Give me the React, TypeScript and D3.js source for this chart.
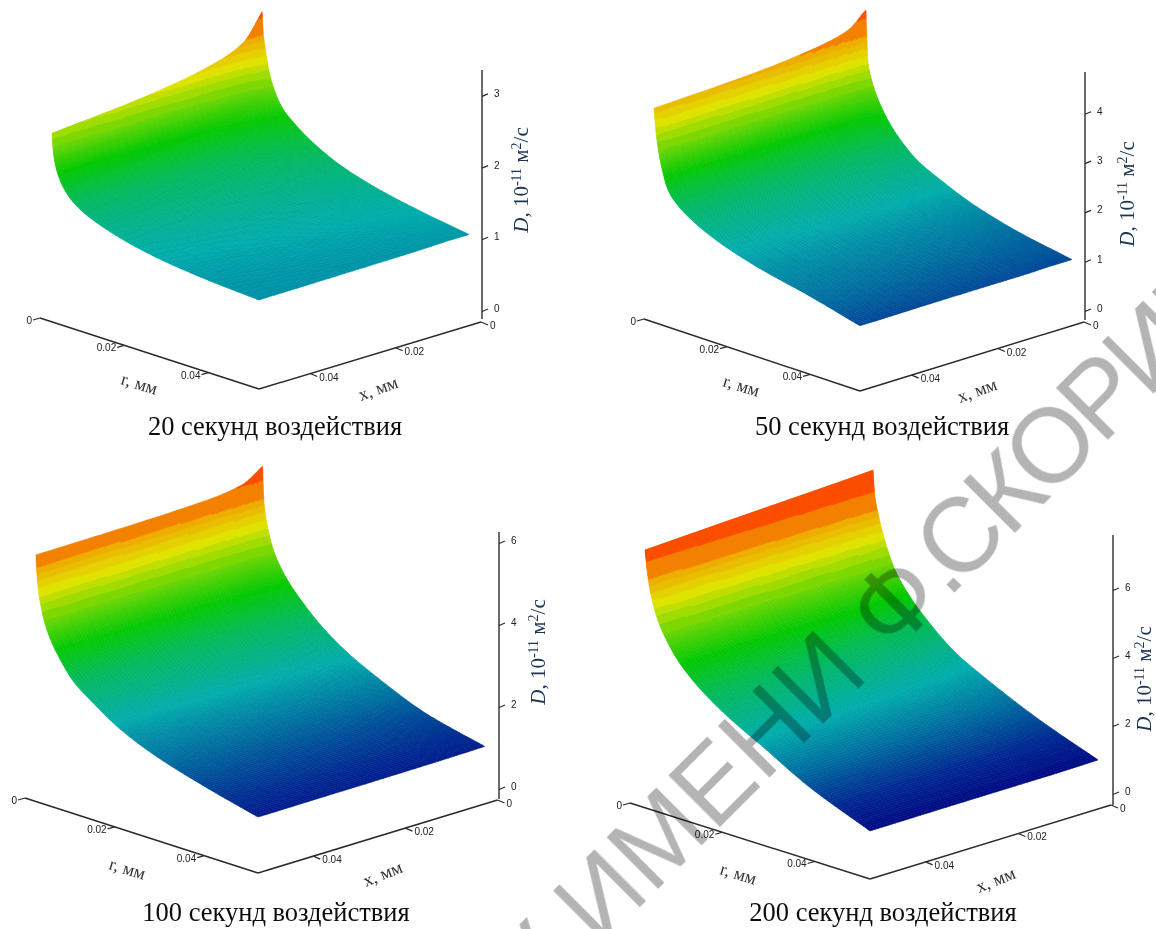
import React, { useMemo } from 'react';
import * as d3 from 'd3';

// grid of the surface, mm
const axisMax = 0.052;
const xColumns = [0.0028, 0.0072, 0.014, 0.03, 0.052];
const rTail = [0.00364, 0.00442, 0.00572, 0.0078, 0.01092, 0.01508, 0.0208, 0.0286, 0.039, 0.052];
const rHead20 = [0.00286, 0.00312];
const rHead50 = [0.00239, 0.00291];
const rHead100 = [0.00244, 0.00276];
const rHead200 = [0.00325, 0.00343];

const rTicks = [0, 0.02, 0.04];
const xTicks = [0, 0.02, 0.04];
const zTicks20 = [0, 1, 2, 3];
const zTicks50 = [0, 1, 2, 3, 4];
const zTicks100 = [0, 2, 4, 6];
const zTicks200 = [0, 2, 4, 6];

// D, 10^-11 m2/s : rows follow r, columns follow xColumns
const d20 = [
  [3.33, 2.98, 2.81, 2.64, 2.52],
  [3.04, 2.72, 2.56, 2.4, 2.29],
  [2.82, 2.51, 2.36, 2.21, 2.1],
  [2.55, 2.29, 2.17, 2.04, 1.95],
  [2.3, 2.14, 2.04, 1.91, 1.8],
  [2.07, 1.94, 1.86, 1.75, 1.66],
  [1.9, 1.78, 1.71, 1.62, 1.54],
  [1.73, 1.67, 1.61, 1.53, 1.44],
  [1.56, 1.52, 1.47, 1.41, 1.34],
  [1.41, 1.38, 1.35, 1.3, 1.25],
  [1.28, 1.26, 1.24, 1.21, 1.18],
  [1.16, 1.16, 1.15, 1.14, 1.13],
];
const d50 = [
  [4.85, 4.54, 4.4, 4.26, 4.18],
  [3.81, 3.77, 3.74, 3.71, 3.69],
  [3.5, 3.42, 3.37, 3.31, 3.28],
  [3.3, 3.18, 3.11, 3.03, 2.98],
  [3.05, 2.9, 2.82, 2.72, 2.63],
  [2.75, 2.63, 2.56, 2.48, 2.4],
  [2.43, 2.35, 2.3, 2.25, 2.2],
  [2.13, 2.1, 2.07, 2.04, 2.01],
  [1.89, 1.87, 1.86, 1.84, 1.82],
  [1.62, 1.62, 1.62, 1.63, 1.63],
  [1.38, 1.39, 1.4, 1.42, 1.44],
  [1.18, 1.18, 1.17, 1.17, 1.16],
];
const d100 = [
  [6.25, 5.95, 5.84, 5.79, 5.77],
  [5.38, 5.29, 5.25, 5.19, 5.15],
  [4.78, 4.67, 4.61, 4.56, 4.52],
  [4.43, 4.33, 4.27, 4.22, 4.18],
  [4.08, 3.98, 3.93, 3.87, 3.82],
  [3.7, 3.59, 3.53, 3.47, 3.42],
  [3.3, 3.19, 3.12, 3.04, 2.97],
  [2.86, 2.8, 2.76, 2.69, 2.62],
  [2.41, 2.37, 2.33, 2.27, 2.21],
  [1.97, 1.94, 1.91, 1.87, 1.83],
  [1.5, 1.5, 1.49, 1.49, 1.48],
  [1.16, 1.15, 1.14, 1.13, 1.12],
];
const d200 = [
  [7.52, 7.49, 7.45, 7.36, 7.23],
  [7.15, 7.13, 7.1, 7.05, 7.0],
  [6.78, 6.76, 6.74, 6.72, 6.7],
  [6.25, 6.2, 6.17, 6.1, 6.05],
  [5.6, 5.56, 5.52, 5.46, 5.4],
  [4.85, 4.84, 4.83, 4.81, 4.8],
  [4.2, 4.2, 4.2, 4.2, 4.2],
  [3.6, 3.61, 3.62, 3.64, 3.67],
  [2.95, 2.98, 3.02, 3.08, 3.13],
  [2.38, 2.41, 2.44, 2.5, 2.55],
  [1.74, 1.75, 1.76, 1.77, 1.78],
  [1.09, 1.08, 1.07, 1.07, 1.06],
];

// colour ramp over D / Dmax of the panel
const rampStops = [0.13, 0.2, 0.28, 0.365, 0.48, 0.575, 0.69, 0.78, 0.86, 0.93, 1];
const rampColors = ['#000080', '#002891', '#006ea0', '#00acac', '#00b95a', '#00c800', '#78d700', '#dfe300', '#eeb000', '#f57000', '#ff3c00'];
const bandEdges = [0.68, 0.71, 0.74, 0.765, 0.795, 0.825, 0.85, 0.875, 0.945, 1.2];

const ramp = d3.scaleLinear<string>().domain(rampStops).range(rampColors).clamp(true);

// top of the ramp comes in flat bands, the rest is continuous
const colorKey = (t: number) => {
  if (t < bandEdges[0]) return Math.round(t * 600) / 600;
  const i = d3.bisectRight(bandEdges, t);
  return Math.min(0.975, (bandEdges[i - 1] + bandEdges[i]) / 2);
};

// monotone cubic through the read values, same slopes as d3.curveMonotoneX
const monotone = (xs: number[], ys: number[]) => {
  const n = xs.length;
  const h = d3.pairs(xs, (a, b) => b - a);
  const s = h.map((dx, i) => (ys[i + 1] - ys[i]) / dx);
  const m = xs.map((_, i) => {
    if (i === 0) return s[0];
    if (i === n - 1) return s[n - 2];
    if (s[i - 1] * s[i] <= 0) return 0;
    const w1 = 2 * h[i] + h[i - 1];
    const w2 = h[i] + 2 * h[i - 1];
    return (w1 + w2) / (w1 / s[i - 1] + w2 / s[i]);
  });
  return (x: number) => {
    const i = Math.max(0, Math.min(n - 2, d3.bisectRight(xs, x) - 1));
    const t = (x - xs[i]) / h[i];
    const t2 = t * t;
    const t3 = t2 * t;
    return (
      (2 * t3 - 3 * t2 + 1) * ys[i] +
      (t3 - 2 * t2 + t) * h[i] * m[i] +
      (-2 * t3 + 3 * t2) * ys[i + 1] +
      (t3 - t2) * h[i] * m[i + 1]
    );
  };
};

// screen cells about 2px deep along r
const refine = (values: number[], minSteps: number, perUnit: number) =>
  d3
    .pairs(values)
    .flatMap(([a, b]) => {
      const steps = Math.max(minSteps, Math.round((b - a) * perUnit));
      return d3.range(steps).map((k) => a + ((b - a) * k) / steps);
    })
    .concat(values[values.length - 1]);

type Panel = {
  caption: string;
  rows: number[];
  values: number[][];
  zTicks: number[];
  colorMax: number;
  base: [number, number];
  rEnd: [number, number];
  xEnd: [number, number];
  zAxisX: number;
  zTop: number;
  zBottom: number;
  zTick0: number;
  zUnit: number;
  lift: number;
  title: [number, number];
  rLabel: [number, number, number];
  xLabel: [number, number, number];
  captionAt: [number, number];
};

const panels: Panel[] = [
  {
    caption: '20 секунд воздействия', rows: [...rHead20, ...rTail], values: d20, zTicks: zTicks20, colorMax: 3.45,
    base: [259, 389], rEnd: [40, 318], xEnd: [481, 322], zAxisX: 482, zTop: 70, zBottom: 319, zTick0: 310, zUnit: 71.7, lift: 8,
    title: [528, 180], rLabel: [120, 384, 17], xLabel: [361, 401, -20], captionAt: [275, 435],
  },
  {
    caption: '50 секунд воздействия', rows: [...rHead50, ...rTail], values: d50, zTicks: zTicks50, colorMax: 4.95,
    base: [860, 391], rEnd: [644, 319], xEnd: [1084, 322], zAxisX: 1085, zTop: 72, zBottom: 320, zTick0: 310, zUnit: 49.3, lift: 8,
    title: [1134, 194], rLabel: [722, 386, 17], xLabel: [960, 403, -20], captionAt: [882, 435],
  },
  {
    caption: '100 секунд воздействия', rows: [...rHead100, ...rTail], values: d100, zTicks: zTicks100, colorMax: 6.25,
    base: [258, 873], rEnd: [25, 798], xEnd: [497.5, 800], zAxisX: 499, zTop: 532, zBottom: 799, zTick0: 788, zUnit: 41, lift: 10,
    title: [545, 652], rLabel: [108, 869, 17], xLabel: [366, 887, -22], captionAt: [276, 921],
  },
  {
    caption: '200 секунд воздействия', rows: [...rHead200, ...rTail], values: d200, zTicks: zTicks200, colorMax: 7.3,
    base: [870, 879], rEnd: [630, 803], xEnd: [1111, 805], zAxisX: 1113, zTop: 535, zBottom: 805, zTick0: 793, zUnit: 34, lift: 12,
    title: [1151, 679], rLabel: [719, 874, 17], xLabel: [979, 893, -22], captionAt: [883, 921],
  },
];

const tickFormat = (v: number) => (v === 0 ? '0' : v.toFixed(2));

const Surface = ({ p }: { p: Panel }) => {
  const bands = useMemo(() => {
    const rX = d3.scaleLinear().domain([0, axisMax]).range([p.rEnd[0], p.base[0]]);
    const rY = d3.scaleLinear().domain([0, axisMax]).range([p.rEnd[1], p.base[1]]);
    const xX = d3.scaleLinear().domain([0, axisMax]).range([p.xEnd[0] - p.base[0], 0]);
    const xY = d3.scaleLinear().domain([0, axisMax]).range([p.xEnd[1] - p.base[1], 0]);

    const fineX = refine(xColumns, 12, 0);
    const fineR = refine(p.rows, 20, 2000);
    const alongX = p.values.map((row) => {
      const f = monotone(xColumns, row);
      return fineX.map(f);
    });
    const grid = fineX.map((_, j) => {
      const f = monotone(p.rows, alongX.map((row) => row[j]));
      return fineR.map(f);
    });
    const at = (j: number, i: number) => {
      const px = rX(fineR[i]) + xX(fineX[j]);
      const py = rY(fineR[i]) + xY(fineX[j]) - p.lift - grid[j][i] * p.zUnit;
      return `${px.toFixed(1)},${py.toFixed(1)}`;
    };

    const byKey = new Map<number, string[]>();
    for (let j = 0; j < fineX.length - 1; j++) {
      for (let i = 0; i < fineR.length - 1; i++) {
        const v = (grid[j][i] + grid[j + 1][i] + grid[j][i + 1] + grid[j + 1][i + 1]) / 4;
        const key = colorKey(v / p.colorMax);
        if (!byKey.has(key)) byKey.set(key, []);
        byKey.get(key)!.push(`M${at(j, i)}L${at(j + 1, i)}L${at(j + 1, i + 1)}L${at(j, i + 1)}Z`);
      }
    }
    return Array.from(byKey, ([key, parts]) => ({ key, color: ramp(key), d: parts.join('') })).sort((a, b) => d3.ascending(a.key, b.key));
  }, [p]);

  return (
    <g>
      {bands.map((b) => (
        <path key={b.key} d={b.d} fill={b.color} stroke={b.color} strokeWidth={0.6} strokeLinejoin="round" />
      ))}
    </g>
  );
};

const Axes = ({ p }: { p: Panel }) => {
  const lerp = (a: number, b: number, v: number) => d3.scaleLinear().domain([0, axisMax]).range([a, b])(v);
  const zY = d3.scaleLinear().domain([0, 1]).range([p.zTick0, p.zTick0 - p.zUnit]);
  const sans = 'Liberation Sans, Arial, sans-serif';
  return (
    <g fill="#222" stroke="none">
      <line x1={p.rEnd[0]} y1={p.rEnd[1]} x2={p.base[0]} y2={p.base[1]} stroke="#2a2a2a" strokeWidth={1.5} />
      <line x1={p.xEnd[0]} y1={p.xEnd[1]} x2={p.base[0]} y2={p.base[1]} stroke="#2a2a2a" strokeWidth={1.5} />
      <line x1={p.zAxisX} y1={p.zTop} x2={p.zAxisX} y2={p.zBottom} stroke="#444" strokeWidth={1.6} />
      {rTicks.map((t) => {
        const x = lerp(p.rEnd[0], p.base[0], t);
        const y = lerp(p.rEnd[1], p.base[1], t);
        return (
          <g key={`r${t}`}>
            <line x1={x} y1={y} x2={x - 7} y2={y + 2} stroke="#2a2a2a" strokeWidth={1.2} />
            <text x={x - 8} y={y + 6} textAnchor="end" fontFamily={sans} fontSize={10}>{tickFormat(t)}</text>
          </g>
        );
      })}
      {xTicks.map((t) => {
        const x = lerp(p.xEnd[0], p.base[0], t);
        const y = lerp(p.xEnd[1], p.base[1], t);
        return (
          <g key={`x${t}`}>
            <line x1={x} y1={y} x2={x + 7} y2={y + 3} stroke="#2a2a2a" strokeWidth={1.2} />
            <text x={x + 9} y={y + 7} fontFamily={sans} fontSize={10}>{tickFormat(t)}</text>
          </g>
        );
      })}
      {p.zTicks.map((t) => (
        <g key={`z${t}`}>
          <line x1={p.zAxisX} y1={zY(t) + 1.5} x2={p.zAxisX + 6} y2={zY(t) - 1} stroke="#2a2a2a" strokeWidth={1.2} />
          <text x={p.zAxisX + 12} y={zY(t) + 2} fontFamily={sans} fontSize={10}>{t}</text>
        </g>
      ))}
      <text
        transform={`translate(${p.title[0]},${p.title[1]}) rotate(-90)`}
        textAnchor="middle"
        fontFamily="Liberation Serif, serif"
        fontSize={21}
        fill="#1b3452"
      >
        <tspan fontStyle="italic">D</tspan>
        <tspan>, 10</tspan>
        <tspan dy={-7} fontSize={14}>-11</tspan>
        <tspan dy={7}> м</tspan>
        <tspan dy={-7} fontSize={14}>2</tspan>
        <tspan dy={7}>/с</tspan>
      </text>
      <text
        transform={`translate(${p.rLabel[0]},${p.rLabel[1]}) rotate(${p.rLabel[2]})`}
        fontFamily="Liberation Serif, serif"
        fontSize={18}
        fill="#333"
      >
        r, мм
      </text>
      <text
        transform={`translate(${p.xLabel[0]},${p.xLabel[1]}) rotate(${p.xLabel[2]})`}
        fontFamily="Liberation Serif, serif"
        fontSize={18}
        fill="#333"
      >
        x, мм
      </text>
      <text x={p.captionAt[0]} y={p.captionAt[1]} textAnchor="middle" fontFamily="Liberation Serif, serif" fontSize={26.5} fill="#111">
        {p.caption}
      </text>
    </g>
  );
};

export default function App() {
  return (
    <svg width={1156} height={929} style={{ position: 'absolute', left: 0, top: 0, background: '#fff' }}>
      <defs>
        <filter id="soft" x="0" y="0" width="1" height="1">
          <feGaussianBlur stdDeviation="0.45" />
        </filter>
      </defs>
      <g filter="url(#soft)">
        {panels.map((p) => (
          <g key={p.caption}>
            <Surface p={p} />
            <Axes p={p} />
          </g>
        ))}
      </g>
      <text
        transform="translate(531,1016) rotate(-45)"
        fontFamily="Liberation Sans, Arial, sans-serif"
        fontSize={105}
        fill="#b4b4b4"
        style={{ mixBlendMode: 'multiply' }}
      >
        У ИМЕНИ Ф.
        <tspan dx={-14} letterSpacing={-5}>СКОРИНЫ</tspan>
      </text>
    </svg>
  );
}
